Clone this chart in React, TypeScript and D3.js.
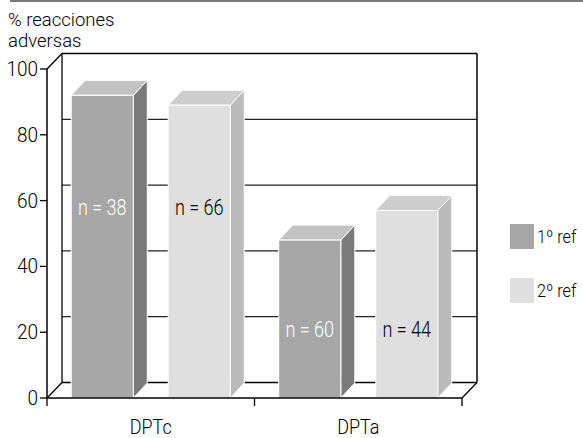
import React from "react";
import * as d3 from "d3";

const categories = ["DPTc", "DPTa"];
const seriesNames = ["1º ref", "2º ref"];
const values1 = [92, 48];
const values2 = [89, 57];
const nLabels1 = ["n = 38", "n = 60"];
const nLabels2 = ["n = 66", "n = 44"];
const labelAt = [58, 21];
const yTicks = [0, 20, 40, 60, 80, 100];

const W = 583;
const H = 438;
const FONT = "Roboto, 'Liberation Sans', Arial, sans-serif";
const FW = 300;

const frontColors = ["#a6a6a6", "#dfdfdf"];
const sideColors = ["#7a7a7a", "#bababa"];
const topColors = ["#c2c2c2", "#cdcdcd"];
const labelColors = ["#ffffff", "#000000"];

function CText(props: any) {
  const { x, y, sx = 1, anchor = "start", size, fill = "#000", children } = props;
  return (
    <text
      transform={`translate(${x},${y}) scale(${sx},1)`}
      textAnchor={anchor}
      fontFamily={FONT}
      fontWeight={FW}
      fontSize={size}
      fill={fill}
    >
      {children}
    </text>
  );
}

export default function App() {
  const y = d3.scaleLinear().domain([0, 100]).range([398, 69]);
  const x = d3.scaleBand<string>().domain(categories).range([47, 462]).padding(0);
  const xi = d3
    .scaleBand<number>()
    .domain([0, 1])
    .range([0, x.bandwidth()])
    .paddingInner(0.36)
    .paddingOuter(0.25);
  const wdx = 15;
  const wdy = -15.5;
  const bdx = 14;
  const bdy = -15;
  const x0 = 47;
  const x1 = 462;

  const bars: any[] = [];
  categories.forEach((c, ci) => {
    [values1[ci], values2[ci]].forEach((v, si) => {
      const bx = (x(c) as number) + (xi(si) as number);
      bars.push({
        key: c + si,
        bx,
        bw: xi.bandwidth(),
        yv: y(v),
        y0: y(0),
        si,
        label: si === 0 ? nLabels1[ci] : nLabels2[ci],
        ly: y(labelAt[ci]),
      });
    });
  });

  const poly = (pts: number[][]) => pts.map((p) => p.join(",")).join(" ");

  return (
    <svg width={W} height={H} style={{ position: "absolute", left: 0, top: 0, background: "#fff" }}>
      <line x1={10} x2={W} y1={1} y2={1} stroke="#7a7a7a" strokeWidth={2} />
      <CText x={8} y={26} size={18.5}>% reacciones</CText>
      <CText x={8} y={47} size={18.5}>adversas</CText>

      {/* back wall gridlines */}
      {yTicks.map((t) => (
        <line
          key={"g" + t}
          x1={x0 + wdx}
          x2={x1 + wdx}
          y1={y(t) + wdy}
          y2={y(t) + wdy}
          stroke={t === 0 || t === 100 ? "#000" : "#222"}
          strokeWidth={1.3}
        />
      ))}
      <line x1={x0 + wdx} x2={x0 + wdx} y1={y(100) + wdy} y2={y(0) + wdy} stroke="#000" strokeWidth={1.3} />
      <line x1={x1 + wdx} x2={x1 + wdx} y1={y(100) + wdy} y2={y(0) + wdy} stroke="#000" strokeWidth={1.5} />
      <line x1={x0} y1={y(100)} x2={x0 + wdx} y2={y(100) + wdy} stroke="#000" strokeWidth={1.3} />
      <line x1={x0} y1={y(0)} x2={x0 + wdx} y2={y(0) + wdy} stroke="#000" strokeWidth={1.3} />
      <line x1={x1} y1={y(0)} x2={x1 + wdx} y2={y(0) + wdy} stroke="#000" strokeWidth={1.3} />

      {/* bars */}
      {bars.map((b) => (
        <g key={b.key}>
          <polygon
            points={poly([
              [b.bx + b.bw, b.yv],
              [b.bx + b.bw + bdx, b.yv + bdy],
              [b.bx + b.bw + bdx, b.y0 + bdy],
              [b.bx + b.bw, b.y0],
            ])}
            fill={sideColors[b.si]}
            stroke="#fff"
            strokeWidth={1}
          />
          <polygon
            points={poly([
              [b.bx, b.yv],
              [b.bx + bdx, b.yv + bdy],
              [b.bx + b.bw + bdx, b.yv + bdy],
              [b.bx + b.bw, b.yv],
            ])}
            fill={topColors[b.si]}
            stroke="#fff"
            strokeWidth={1}
          />
          <rect x={b.bx} y={b.yv} width={b.bw} height={b.y0 - b.yv} fill={frontColors[b.si]} stroke="#fff" strokeWidth={1} />
          <CText x={b.bx + b.bw / 2} y={b.ly + 8} anchor="middle" size={22} sx={0.82} fill={labelColors[b.si]}>
            {b.label}
          </CText>
        </g>
      ))}

      {/* front axes */}
      <line x1={x0} x2={x0} y1={y(100)} y2={y(0)} stroke="#000" strokeWidth={1.5} />
      <line x1={x0} x2={x1} y1={y(0)} y2={y(0)} stroke="#000" strokeWidth={1.5} />
      {yTicks.map((t) => (
        <g key={"t" + t}>
          <line x1={x0 - 7} x2={x0} y1={y(t)} y2={y(t)} stroke="#000" strokeWidth={1.3} />
          <CText x={38} y={y(t) + 7} anchor="end" size={20} sx={0.95}>
            {t}
          </CText>
        </g>
      ))}
      {[x0, ...categories.map((c) => (x(c) as number) + x.bandwidth())].map((tx, i) => (
        <line key={"xt" + i} x1={tx} x2={tx} y1={y(0)} y2={y(0) + 8} stroke="#000" strokeWidth={1.3} />
      ))}
      {categories.map((c) => (
        <CText key={"c" + c} x={(x(c) as number) + x.bandwidth() / 2} y={434} anchor="middle" size={20} sx={0.9}>
          {c}
        </CText>
      ))}

      {/* legend */}
      {seriesNames.map((s, i) => (
        <g key={"l" + s}>
          <rect x={510} y={224 + i * 54} width={24} height={25} fill={frontColors[i]} />
          <CText x={537} y={243 + i * 54} size={18} sx={0.9}>
            {s}
          </CText>
        </g>
      ))}
    </svg>
  );
}
